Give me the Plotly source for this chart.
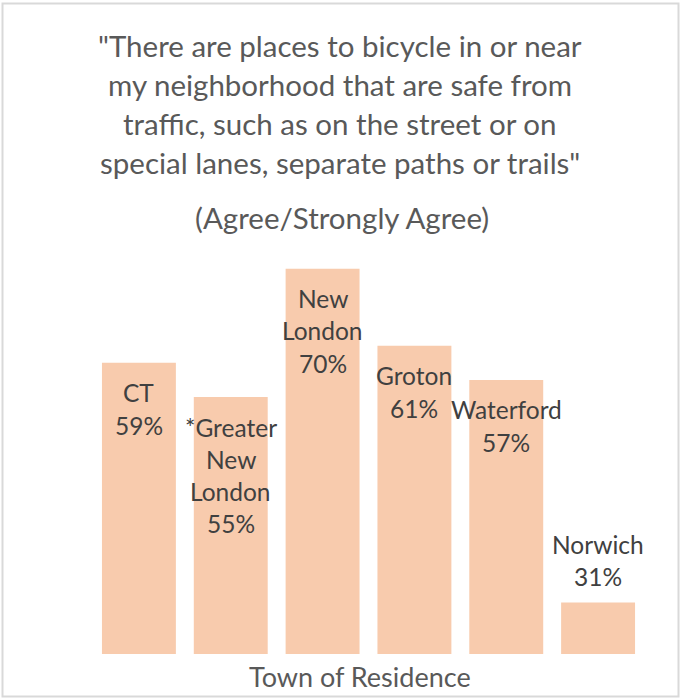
import plotly.graph_objects as go

# Survey result by town (percent agree / strongly agree)
towns = ["CT", "*Greater New London", "New London", "Groton", "Waterford", "Norwich"]
agree_pct = [59, 55, 70, 61, 57, 31]

title_lines = [
    "\"There are places to bicycle in or near",
    "my neighborhood that are safe from",
    "traffic, such as on the street or on",
    "special lanes, separate paths or trails\"",
]
subtitle = "(Agree/Strongly Agree)"
x_title = "Town of Residence"

W, H = 683, 698
L, R, T, B = 93, 39, 183, 44
PW, PH = W - L - R, H - T - B
Y0, Y1 = 25, 80

BAR = "#F8CBAD"
FONT = "Lato, Calibri, sans-serif"


def px_x(px):
    return (px - L) / PW


def px_y(py):
    return (H - B - py) / PH


fig = go.Figure(
    go.Bar(
        x=towns,
        y=agree_pct,
        marker=dict(color=BAR, line=dict(width=0)),
        hoverinfo="skip",
    )
)

annotations = []

# Title block, one line per annotation for Excel-like spacing
for i, line in enumerate(title_lines):
    annotations.append(dict(
        text=line, x=px_x(340), y=px_y(45 + i * 39), xref="paper", yref="paper",
        xanchor="center", yanchor="middle", showarrow=False,
        font=dict(family=FONT, size=29.5, color="#595959"),
    ))
annotations.append(dict(
    text=subtitle, x=px_x(342), y=px_y(217), xref="paper", yref="paper",
    xanchor="center", yanchor="middle", showarrow=False,
    font=dict(family=FONT, size=29.5, color="#595959"),
))

# Axis title
annotations.append(dict(
    text=x_title, x=px_x(360), y=px_y(676), xref="paper", yref="paper",
    xanchor="center", yanchor="middle", showarrow=False,
    font=dict(family=FONT, size=27, color="#595959"),
))

# Data labels: town name wrapped on spaces, then the value
LINE = 32.3
for town, v in zip(towns, agree_pct):
    lines = town.split(" ") + [f"{v}%"]
    outside = v < 40
    n = len(lines)
    for i, ln in enumerate(lines):
        if outside:
            shift = 26 + (n - 1 - i) * LINE
        else:
            shift = -(30 + i * LINE)
        annotations.append(dict(
            text=ln, x=town, y=v, xref="x", yref="y",
            xanchor="center", yanchor="middle", yshift=shift, showarrow=False,
            font=dict(family=FONT, size=24.5, color="#404040"),
        ))

fig.update_layout(
    width=W, height=H,
    margin=dict(l=L, r=R, t=T, b=B, pad=0),
    paper_bgcolor="white", plot_bgcolor="white",
    bargap=0.195,
    showlegend=False,
    xaxis=dict(visible=False, range=[-0.5, len(towns) - 0.5]),
    yaxis=dict(visible=False, range=[Y0, Y1]),
    annotations=annotations,
    shapes=[dict(
        type="rect", xref="paper", yref="paper",
        x0=px_x(2.5), x1=px_x(678.5), y0=px_y(3.5), y1=px_y(696.5),
        line=dict(color="#D9D9D9", width=2), fillcolor="rgba(0,0,0,0)", layer="below",
    )],
)

fig.write_html("out.html")
